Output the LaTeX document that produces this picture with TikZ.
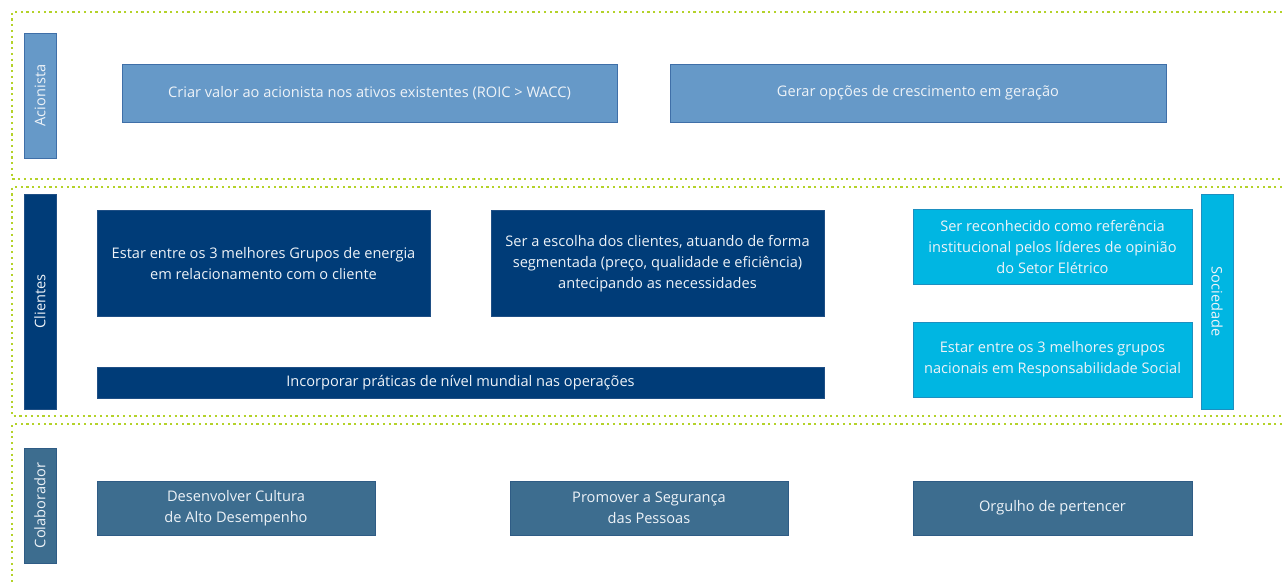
\documentclass[tikz,border=0pt]{standalone}
\usepackage{fontspec}
\setmainfont{Open Sans}
\definecolor{acion}{HTML}{6699C8}
\definecolor{acionb}{HTML}{3F6FA8}
\definecolor{cli}{HTML}{003C78}
\definecolor{clib}{HTML}{1F4F85}
\definecolor{soc}{HTML}{00B6E2}
\definecolor{socb}{HTML}{1D8FC0}
\definecolor{col}{HTML}{3D6D8F}
\definecolor{colb}{HTML}{2F5C85}
\definecolor{dotg}{HTML}{B4D22A}
\definecolor{txt}{HTML}{EEF3F8}
\begin{document}
\begin{tikzpicture}[x=1pt,y=-1pt,
  frameline/.style={dotg, line width=2.3pt, line cap=butt, dash pattern=on 2.2pt off 3.55pt},
  rbox/.style={line width=0.5pt, text=txt, font=\fontsize{14.6}{21}\selectfont, align=center},
  ac/.style={rbox, fill=acion, draw=acionb},
  cl/.style={rbox, fill=cli, draw=clib},
  so/.style={rbox, fill=soc, draw=socb},
  co/.style={rbox, fill=col, draw=colb},
  lbl/.style={text=txt, font=\fontsize{14.6}{17}\selectfont}
]
\useasboundingbox (0,0) rectangle (1282,584);
% frames
\coordinate (f1a) at (1282,12); \coordinate (f1b) at (12,12); \coordinate (f1c) at (12,179); \coordinate (f1d) at (1282,179);
\draw[frameline] (f1a) -- (f1b) -- (f1c) -- (f1d);
\coordinate (f2a) at (1282,187); \coordinate (f2b) at (12,187); \coordinate (f2c) at (12,416); \coordinate (f2d) at (1282,416);
\draw[frameline] (f2a) -- (f2b) -- (f2c) -- (f2d);
\coordinate (f3a) at (1282,424); \coordinate (f3b) at (12,424); \coordinate (f3c) at (12,586);
\draw[frameline] (f3a) -- (f3b) -- (f3c);

% Acionista row
\draw[ac] (24,33) rectangle node[lbl, rotate=90] (acl) {Acionista} (56,158);
\draw[ac] (122,64) rectangle node[lbl] (a1) {Criar valor ao acionista nos ativos existentes (ROIC > WACC)} (617,122);
\draw[ac] (670,64) rectangle node[lbl] (a2) {Gerar opções de crescimento em geração} (1166,122);

% Clientes row
\draw[cl] (24,194) rectangle node[lbl, rotate=90] (cll) {Clientes} (56,409);
\draw[cl] (97,210) rectangle node[rbox, yshift=-1pt] (c1) {Estar entre os 3 melhores Grupos de energia\\em relacionamento com o cliente} (430,316);
\draw[cl] (491,210) rectangle node[rbox, yshift=-1pt] (c2) {Ser a escolha dos clientes, atuando de forma\\segmentada (preço, qualidade e eficiência)\\antecipando as necessidades} (824,316);
\draw[cl] (97,367) rectangle node[lbl] (c3) {Incorporar práticas de nível mundial nas operações} (824,398);

% Sociedade
\draw[so] (913,209) rectangle node[rbox] (s1) {Ser reconhecido como referência\\institucional pelos líderes de opinião\\do Setor Elétrico} (1192,284);
\draw[so] (913,322) rectangle node[rbox] (s2) {Estar entre os 3 melhores grupos\\nacionais em Responsabilidade Social} (1192,397);
\draw[so] (1201,194) rectangle node[lbl, rotate=-90] (sol) {Sociedade} (1233,409);

% Colaborador row
\draw[co] (24,448) rectangle node[lbl, rotate=90] (col) {Colaborador} (56,563);
\draw[co] (97,481) rectangle node[rbox] (k1) {Desenvolver Cultura\\de Alto Desempenho} (375,535);
\draw[co] (510,481) rectangle node[rbox] (k2) {Promover a Segurança\\das Pessoas} (788,535);
\draw[co] (913,481) rectangle node[lbl] (k3) {Orgulho de pertencer} (1192,535);
\end{tikzpicture}
\end{document}
